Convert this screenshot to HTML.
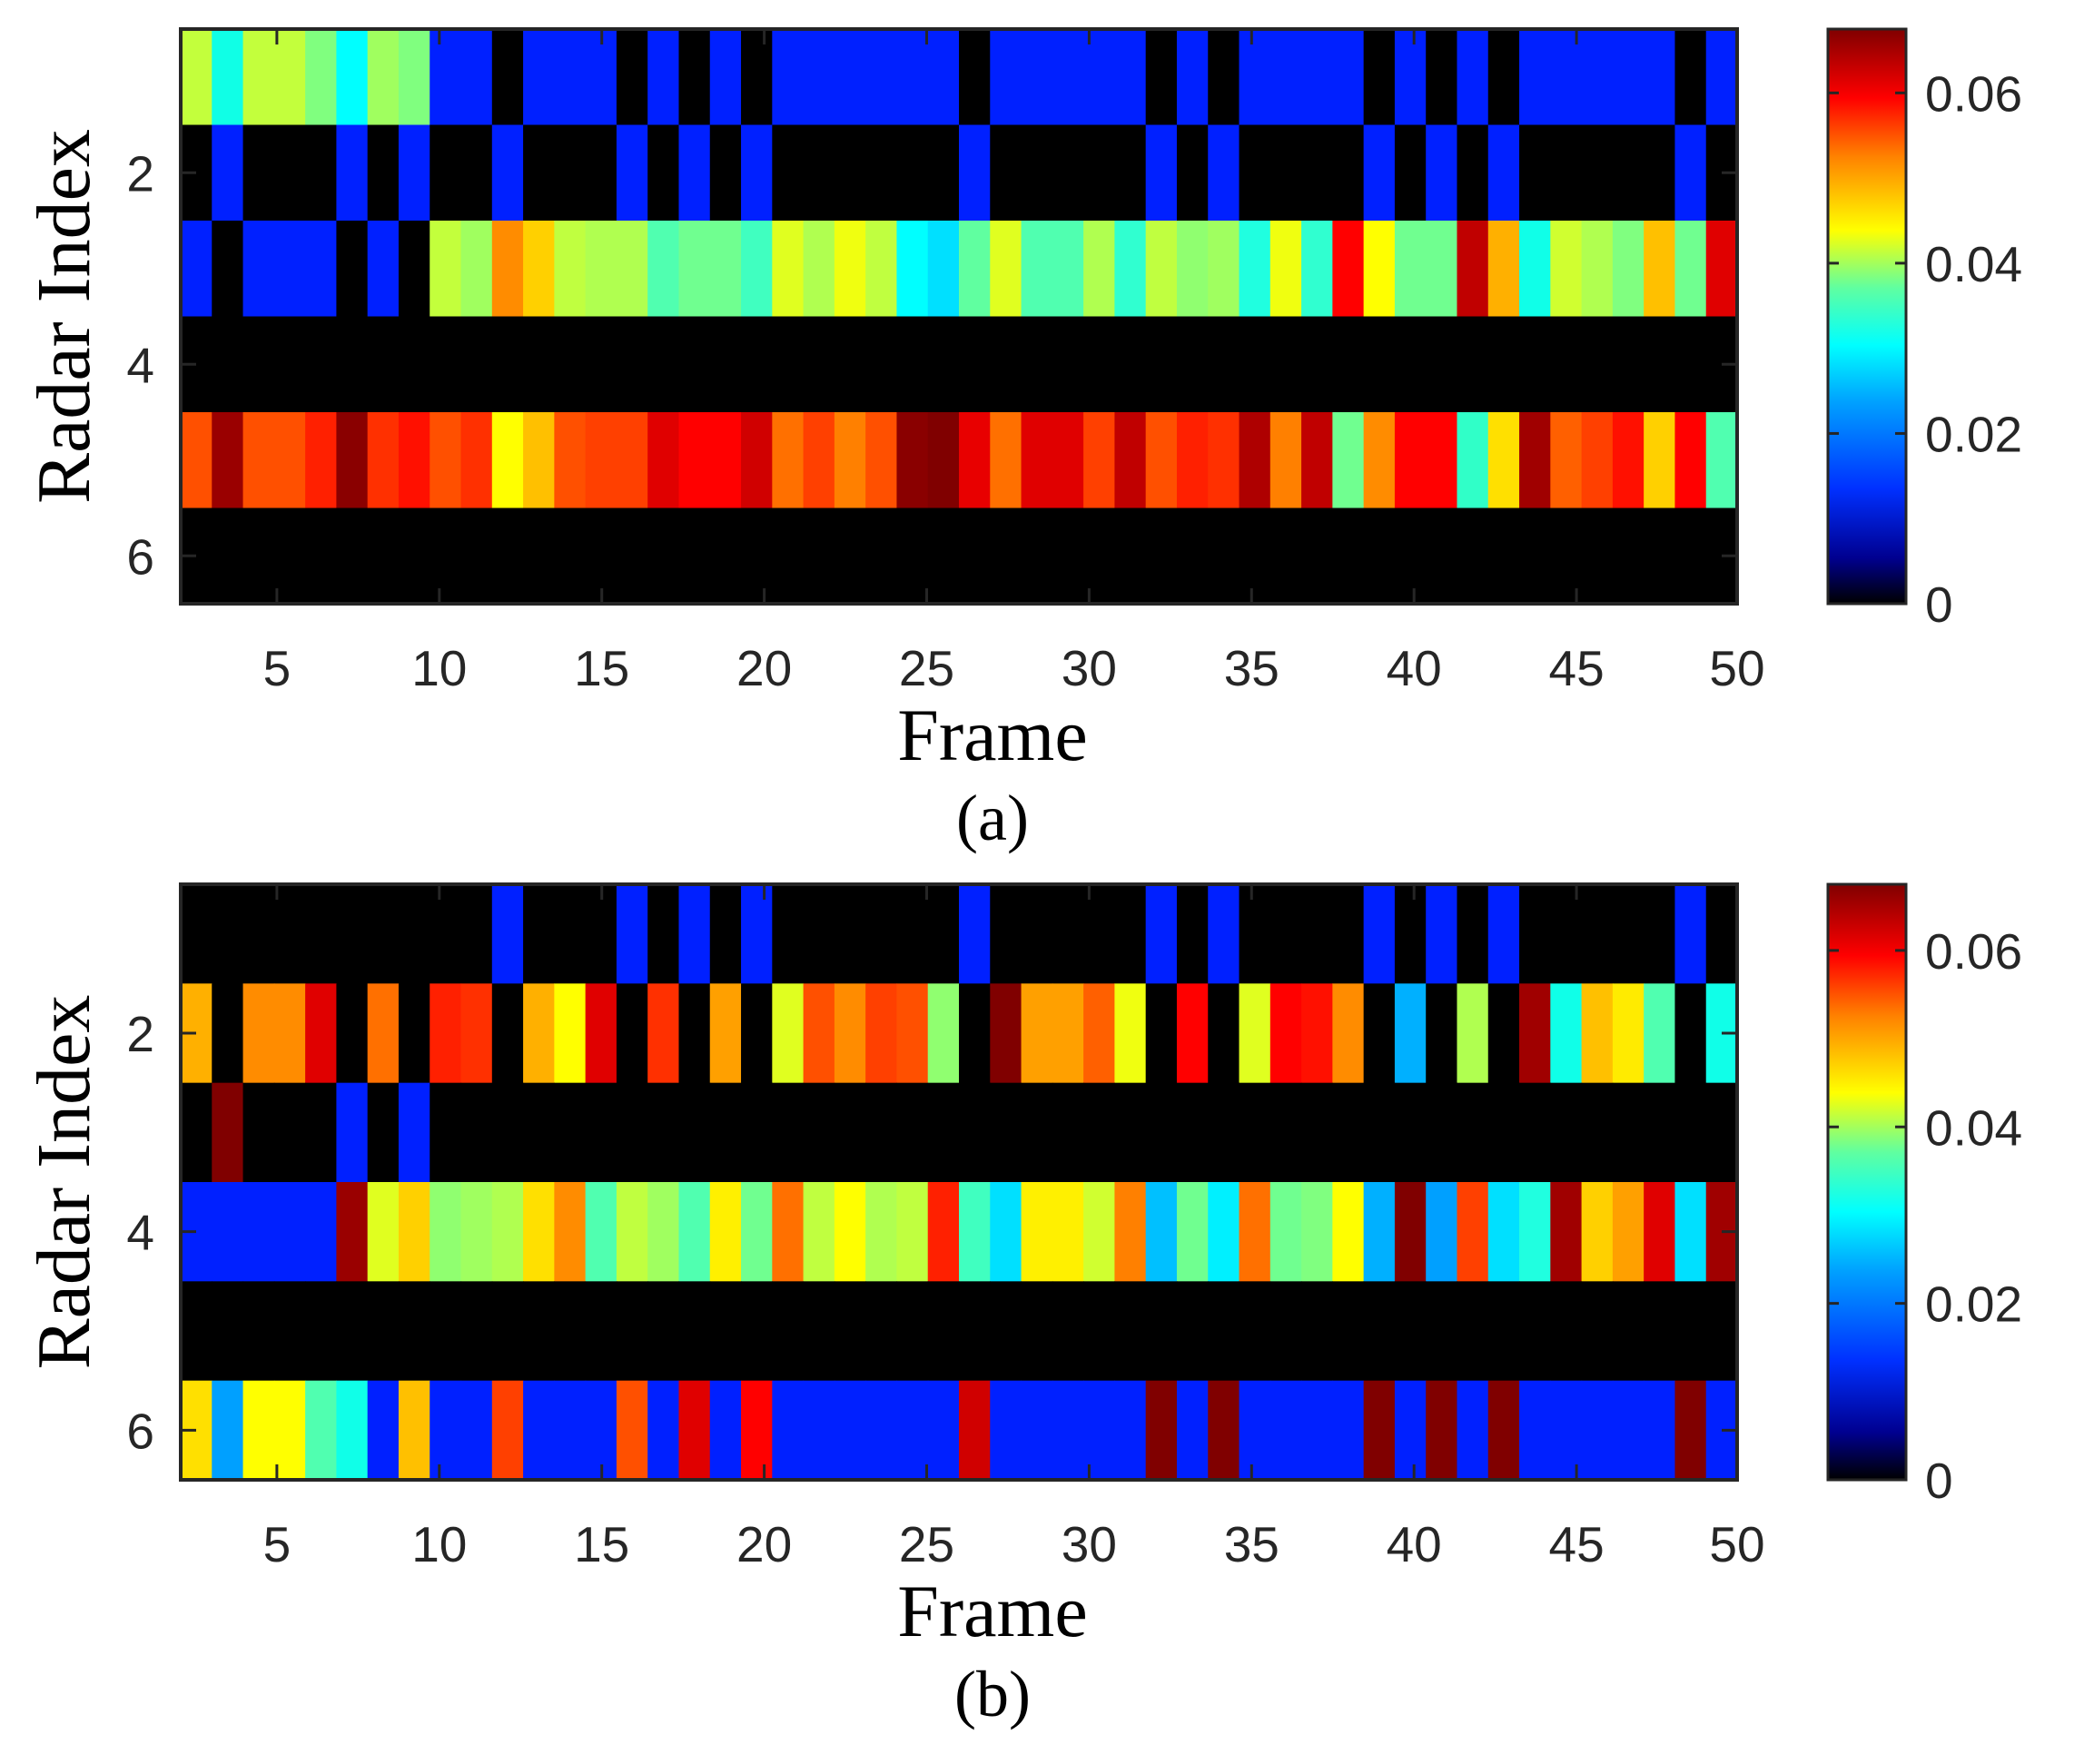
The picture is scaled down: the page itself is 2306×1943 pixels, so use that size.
<!DOCTYPE html>
<html><head><meta charset="utf-8"><style>
html,body{margin:0;padding:0;background:#fff;}
svg{display:block;}
text{font-family:"Liberation Sans",Arial,sans-serif;fill:#262626;}
.serif{font-family:"Liberation Serif","Times New Roman",serif;fill:#000;}
</style></head><body>
<svg id="s" width="2306" height="1943" viewBox="0 0 2306 1943" xmlns="http://www.w3.org/2000/svg">
<defs>
<linearGradient id="jet" x1="0" y1="1" x2="0" y2="0">
<stop offset="0" stop-color="#000000"/>
<stop offset="0.08" stop-color="#000090"/>
<stop offset="0.2" stop-color="#0030ff"/>
<stop offset="0.35" stop-color="#00a0ff"/>
<stop offset="0.45" stop-color="#00ffff"/>
<stop offset="0.55" stop-color="#60ffa0"/>
<stop offset="0.65" stop-color="#ffff00"/>
<stop offset="0.78" stop-color="#ff8000"/>
<stop offset="0.88" stop-color="#ff0000"/>
<stop offset="1" stop-color="#800000"/>
</linearGradient>
</defs>
<g id="cells"></g>
<g id="axes"></g>
</svg>
<script>
var K='#000000',B='#0020ff';
function ex(a){var r=[];a.forEach(function(e){if(Array.isArray(e)){for(var i=0;i<e[1];i++)r.push(e[0]);}else r.push(e);});return r;}
var A=[
ex(['#c3ff3c','#10ffe6',['#c3ff3c',2],'#80ff7f','#00ffff','#a0ff5f','#80ff7f',[B,2],K,[B,3],K,B,K,B,K,[B,6],K,[B,5],K,B,K,[B,4],K,B,K,B,K,[B,5],K,B]),
ex([K,B,[K,3],B,K,B,[K,2],B,[K,3],B,K,B,K,B,[K,6],B,[K,5],B,K,B,[K,4],B,K,B,K,B,[K,5],B,K]),
ex([B,K,[B,3],K,B,K,'#c3ff3c','#a0ff5f','#ff8c00','#ffd000','#c0ff40','#b0ff50','#b0ff50','#50ffb0','#70ff90','#70ff90','#40ffc0','#e0ff20','#b0ff50','#f0ff10','#c0ff40','#00ffff','#00e0ff','#60ffa0','#e0ff20','#50ffb0','#50ffb0','#b0ff50','#30ffd0','#c0ff40','#90ff70','#a0ff60','#20ffe0','#f0ff10','#30ffd0','#ff0000','#ffff00','#70ff90','#70ff90','#c00000','#ffb000','#10ffe8','#d0ff30','#b0ff50','#80ff80','#ffc000','#70ff90','#e00000']),
ex([[K,50]]),
ex(['#ff5000','#9a0000','#ff5000','#ff5000','#ff2000','#8a0000','#ff3000','#ff1000','#ff5000','#ff3000','#ffff00','#ffc000','#ff5000','#ff4000','#ff4000','#e00000','#ff0000','#ff0000','#d00000','#ff7000','#ff4000','#ff8000','#ff5000','#8a0000','#800000','#e80000','#ff7000','#e00000','#e00000','#ff4000','#c00000','#ff5000','#ff2000','#ff3000','#ae0000','#ff8000','#c00000','#70ff90','#ff8c00','#ff0000','#ff0000','#30ffc8','#ffe000','#a00000','#ff6000','#ff4000','#ff1000','#ffd000','#ff0000','#50ffb0']),
ex([[K,50]])
];
var Bb=[
ex([[K,10],B,[K,3],B,K,B,K,B,[K,6],B,[K,5],B,K,B,[K,4],B,K,B,K,B,[K,5],B,K]),
ex(['#ffb000',K,'#ff8c00','#ff8c00','#e00000',K,'#ff7000',K,'#ff2000','#ff3000',K,'#ffb000','#ffff00','#e00000',K,'#ff3000',K,'#ffa000',K,'#e0ff20','#ff5000','#ff8c00','#ff4000','#ff5000','#90ff70',K,'#800000','#ffa000','#ffa000','#ff6000','#f0ff10',K,'#ff0000',K,'#e0ff20','#ff0000','#ff1000','#ff8c00',K,'#00b0ff',K,'#b0ff50',K,'#a00000','#10ffe8','#ffc000','#ffeb00','#50ffb0',K,'#10ffe8']),
ex([K,'#800000',[K,3],B,K,B,[K,42]]),
ex([[B,5],'#9a0000','#e0ff20','#ffd000','#90ff70','#a0ff60','#b0ff50','#ffe000','#ff8c00','#50ffb0','#c0ff40','#a0ff60','#50ffb0','#fff000','#70ff90','#ff7000','#c0ff40','#ffff00','#b0ff50','#c0ff40','#ff2000','#40ffc0','#00e0ff','#fff000','#fff000','#d0ff30','#ff8000','#00c0ff','#70ff90','#00f0ff','#ff7000','#70ff90','#80ff80','#ffff00','#00b0ff','#800000','#00a0ff','#ff4000','#00e0ff','#20ffe0','#a00000','#ffd000','#ffa000','#e00000','#00e0ff','#a00000']),
ex([[K,50]]),
ex(['#ffe000','#00a0ff','#ffff00','#ffff00','#50ffb0','#10ffe8',B,'#ffc000',B,B,'#ff4000',[B,3],'#ff5000',B,'#e00000',B,'#ff0000',[B,6],'#d00000',[B,5],'#800000',B,'#800000',[B,4],'#800000',B,'#800000',B,'#800000',[B,5],'#800000',B])
];
var x0=199,x1=1913,cw=(x1-x0)/50;
var g='',ax='';
function draw(M,y0,y1,lab){
  var rh=(y1-y0)/6;
  for(var r=0;r<6;r++)for(var c=0;c<50;c++){
    var xs=x0+c*cw;
    g+='<rect x="'+xs.toFixed(2)+'" y="'+(y0+r*rh).toFixed(2)+'" width="'+(cw+0.6).toFixed(2)+'" height="'+(rh+0.6).toFixed(2)+'" fill="'+M[r][c]+'"/>';
  }
  ax+='<rect x="'+x0+'" y="'+y0+'" width="'+(x1-x0)+'" height="'+(y1-y0)+'" fill="none" stroke="#262626" stroke-width="4"/>';
  for(var f=5;f<=50;f+=5){
    var tx=304.9+(f-5)*35.78;
    if(tx>x1)tx=x1;
    ax+='<line x1="'+tx+'" y1="'+y0+'" x2="'+tx+'" y2="'+(y0+17)+'" stroke="#262626" stroke-width="3"/>';
    ax+='<line x1="'+tx+'" y1="'+y1+'" x2="'+tx+'" y2="'+(y1-17)+'" stroke="#262626" stroke-width="3"/>';
    ax+='<text x="'+tx+'" y="'+(y1+90)+'" font-size="55" text-anchor="middle">'+f+'</text>';
  }
  [2,4,6].forEach(function(v){
    var ty=y0+(v-0.5)*rh;
    ax+='<line x1="'+x0+'" y1="'+ty+'" x2="'+(x0+17)+'" y2="'+ty+'" stroke="#262626" stroke-width="3"/>';
    ax+='<line x1="'+x1+'" y1="'+ty+'" x2="'+(x1-17)+'" y2="'+ty+'" stroke="#262626" stroke-width="3"/>';
    ax+='<text x="170" y="'+(ty+20)+'" font-size="55" text-anchor="end">'+v+'</text>';
  });
  var cx=2013,cw2=86;
  ax+='<rect x="'+cx+'" y="'+y0+'" width="'+cw2+'" height="'+(y1-y0)+'" fill="url(#jet)" stroke="#262626" stroke-width="3"/>';
  var vmax=0.0675;
  [0,0.02,0.04,0.06].forEach(function(v){
    var ty=y1-(v/vmax)*(y1-y0);
    ax+='<line x1="'+cx+'" y1="'+ty+'" x2="'+(cx+12)+'" y2="'+ty+'" stroke="#262626" stroke-width="3"/>';
    ax+='<line x1="'+(cx+cw2)+'" y1="'+ty+'" x2="'+(cx+cw2-12)+'" y2="'+ty+'" stroke="#262626" stroke-width="3"/>';
    ax+='<text x="2120" y="'+(ty+20)+'" font-size="55">'+(v===0?'0':v.toFixed(2))+'</text>';
  });
  ax+='<text class="serif" x="1093" y="'+(y1+172)+'" font-size="82" text-anchor="middle">Frame</text>';
  ax+='<text class="serif" x="1093" y="'+(y1+260)+'" font-size="72" text-anchor="middle">'+lab+'</text>';
  var cy=(y0+y1)/2;
  ax+='<text class="serif" x="0" y="0" font-size="84" text-anchor="middle" transform="translate(98,'+cy+') rotate(-90)">Radar Index</text>';
}
draw(A,32,665,'(a)');
draw(Bb,974,1630,'(b)');
document.getElementById('cells').innerHTML=g;
document.getElementById('axes').innerHTML=ax;
</script>
</body></html>
